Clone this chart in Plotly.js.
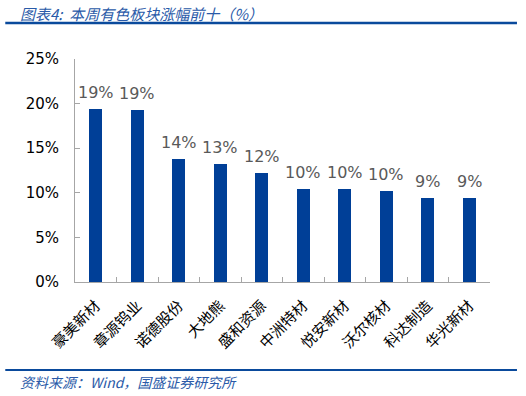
<!DOCTYPE html>
<html><head><meta charset="utf-8">
<script src="https://cdn.plot.ly/plotly-3.0.1.min.js"></script>
<style>html,body{margin:0;padding:0;background:#fff}#c{width:526px;height:396px}</style>
</head><body><div id="c"></div>
<script>
const categories = ["豪美新材","章源钨业","诺德股份","大地熊","盛和资源","中洲特材","悦安新材","沃尔核材","科达制造","华光新材"];
const values = [19.37, 19.26, 13.8, 13.25, 12.25, 10.46, 10.42, 10.23, 9.42, 9.37];
const valueLabels = values.map(v => Math.round(v) + "%");
const yTicks = [0, 5, 10, 15, 20, 25];
const yTickLabels = yTicks.map(v => v + "%");

const blue = "#003f97";
const cjk = "'Noto Sans CJK SC', sans-serif";

const data = [{
  type: "bar", x: categories, y: values,
  marker: {color: blue},
  width: 0.31,
  hoverinfo: "skip"
}];

const valueAnnotations = categories.map((c, i) => ({
  x: c, y: values[i], xref: "x", yref: "y", xanchor: "center", yanchor: "bottom",
  yshift: 5, showarrow: false, text: valueLabels[i],
  font: {family: "Verdana, 'DejaVu Sans', sans-serif", size: 16, color: "#595959"}
}));

const layout = {
  width: 526, height: 396,
  margin: {l: 75, r: 36, t: 59, b: 114},
  paper_bgcolor: "#fff", plot_bgcolor: "#fff",
  showlegend: false,
  bargap: 0,
  xaxis: {
    type: "category", tickson: "boundaries", ticks: "inside", ticklen: 5, tickcolor: "#a6a6a6",
    showline: true, linecolor: "#a6a6a6", linewidth: 1, showgrid: false,
    tickangle: -45, ticklabelstandoff: 8, tickfont: {family: cjk, size: 15, color: "#000"}
  },
  yaxis: {
    range: [0, 25], tickvals: yTicks, ticktext: yTickLabels,
    ticks: "inside", ticklen: 5, tickcolor: "#a6a6a6",
    showline: true, linecolor: "#a6a6a6", linewidth: 1, showgrid: false, zeroline: false,
    ticklabelstandoff: 12,
    tickfont: {family: "Verdana, 'DejaVu Sans', sans-serif", size: 15, color: "#000"}
  },
  shapes: [
    {type: "line", xref: "paper", yref: "paper", x0: -0.168, x1: 1.065, y0: 1.161, y1: 1.161, line: {color: "#0a4a9c", width: 2.5}},
    {type: "line", xref: "paper", yref: "paper", x0: -0.168, x1: 1.065, y0: -0.395, y1: -0.395, line: {color: "#0a4a9c", width: 2}}
  ],
  annotations: [
    {xref: "paper", yref: "paper", x: -0.137, y: 1.202, xanchor: "left", yanchor: "middle", showarrow: false,
     text: "<i>图表4:  本周有色板块涨幅前十（%）</i>", font: {family: cjk, size: 15, color: "#2a5aa8"}},
    {xref: "paper", yref: "paper", x: -0.137, y: -0.448, xanchor: "left", yanchor: "middle", showarrow: false,
     text: "<i>资料来源：Wind，国盛证券研究所</i>", font: {family: cjk, size: 14, color: "#2a5aa8"}}
  ].concat(valueAnnotations)
};
Plotly.newPlot("c", data, layout, {staticPlot: true});
</script></body></html>
